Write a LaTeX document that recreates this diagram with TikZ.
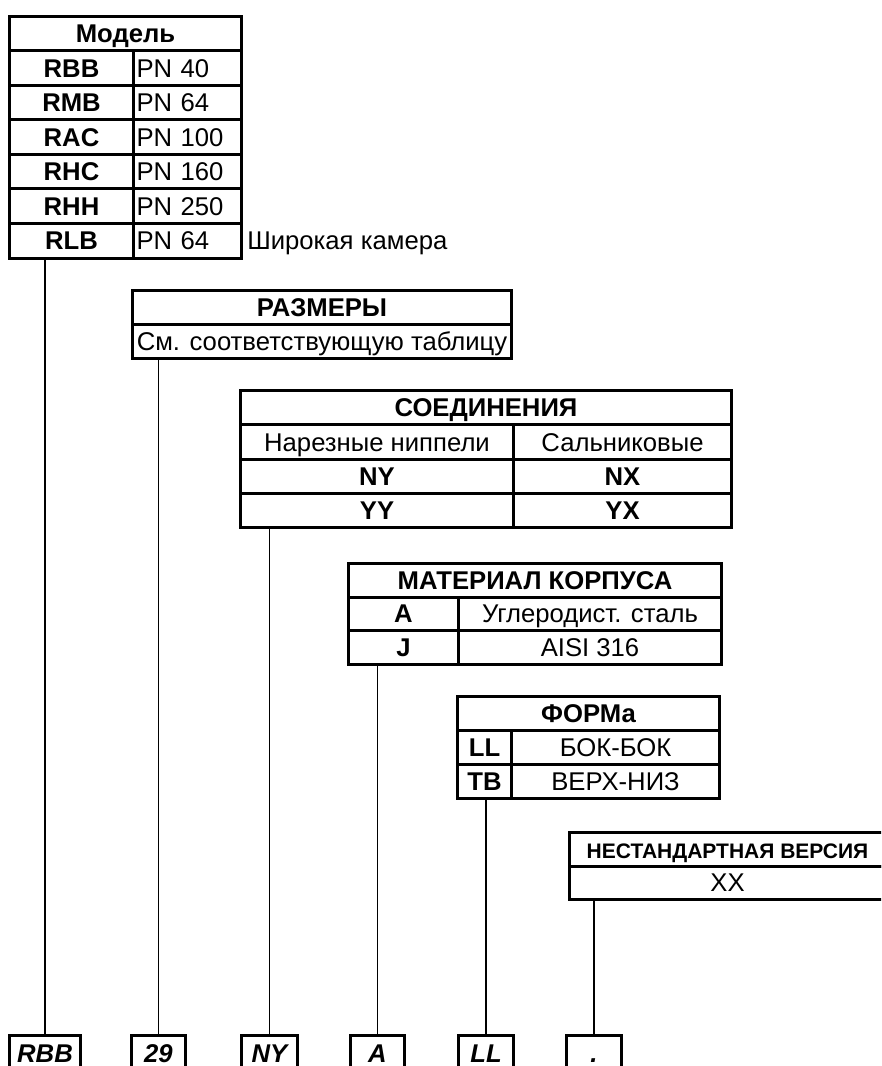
\documentclass[tikz,border=0pt]{standalone}
\usepackage{fontspec}
\setmainfont{Liberation Sans}
\newcommand\tabfont{\fontsize{19.25pt}{21pt}\selectfont}
\newcommand\smallhd{\fontsize{15.75pt}{17pt}\selectfont}
\tikzset{
  cw/.style={minimum width=#1*0.75pt},
  ch/.style={minimum height=#1*0.75pt},
  cell/.style={draw, line width=2.25pt, inner sep=0pt, anchor=north west,
    text height=13.8pt, text depth=0pt, font=\tabfont},
  hd/.style={cell, font=\tabfont\bfseries},
  pcell/.style={cell, text width=76.5pt, inner xsep=2.25pt, align=left},
  outbox/.style={cell, ch=36, font=\tabfont\bfseries\itshape},
  link/.style={line width=0.9pt}
}
\begin{document}
\begin{tikzpicture}[x=0.75pt, y=-0.75pt]
        \useasboundingbox (0,0) rectangle (881,1066);
        \clip (0,0) rectangle (881,1066);
        % model
        \node[hd, cw=232, ch=34.5] (model) at (8,15) {Модель};
        \foreach \code/\pn [count=\i] in {RBB/PN 40, RMB/PN 64, RAC/PN 100, RHC/PN 160, RHH/PN 250, RLB/PN 64}{
            \node[hd, cw=124, ch=34.5] (m\i) at (8, 15+34.5*\i) {\code};
            \node[pcell, ch=34.5] (p\i) at (132, 15+34.5*\i) {\pn};
        }
        \node[anchor=west, inner sep=0pt, text height=13.8pt, text depth=0pt, font=\tabfont] (wide) at ([xshift=3pt]p6.east) {Широкая камера};
        % sizes
        \node[hd, cw=379, ch=34] (sz1) at (131,289) {РАЗМЕРЫ};
        \node[cell, cw=379, ch=34] (sz2) at (131,323) {См. соответствующую таблицу};
        % connections
        \node[hd, cw=491, ch=34.25] (con) at (239,389) {СОЕДИНЕНИЯ};
        \node[cell, cw=273, ch=34.25] (ca1) at (239,423.25) {Нарезные ниппели};
        \node[cell, cw=218, ch=34.25] (cb1) at (512,423.25) {Сальниковые};
        \foreach \a/\b [count=\i from 2] in {NY/NX, YY/YX}{
            \node[hd, cw=273, ch=34.25] (ca\i) at (239, {423.25+34.25*(\i-1)}) {\a};
            \node[hd, cw=218, ch=34.25] (cb\i) at (512, {423.25+34.25*(\i-1)}) {\b};
        }
        % body material
        \node[hd, cw=373, ch=33.5] (mat) at (347,562) {МАТЕРИАЛ КОРПУСА};
        \foreach \a/\b [count=\i] in {A/Углеродист. сталь, J/AISI 316}{
            \node[hd, cw=110, ch=33.5] (ma\i) at (347, 562+33.5*\i) {\a};
            \node[cell, cw=263, ch=33.5] (mb\i) at (457, 562+33.5*\i) {\b};
        }
        % shape
        \node[hd, cw=262, ch=34] (frm) at (456,695) {ФОРМа};
        \foreach \a/\b [count=\i] in {LL/БОК-БОК, TB/ВЕРХ-НИЗ}{
            \node[hd, cw=54, ch=34] (fa\i) at (456, 695+34*\i) {\a};
            \node[cell, cw=208, ch=34] (fb\i) at (510, 695+34*\i) {\b};
        }
        % special version
        \node[hd, cw=316, ch=33.5, font=\smallhd\bfseries] (spc) at (568,831) {НЕСТАНДАРТНАЯ ВЕРСИЯ};
        \node[cell, cw=316, ch=33.5] (xx) at (568,864.5) {XX};
        % code boxes and links
        \foreach \x/\w/\lab/\top [count=\i] in {8/71/RBB/m6, 130/54/29/sz2, 240/56/NY/ca3, 349/54/A/ma2, 457/55/LL/fa2, 565/55/./xx}{
            \node[outbox, cw=\w] (b\i) at (\x,1034) {\lab};
            \draw[link] (b\i.north) -- (b\i.north |- \top.south);
        }
\end{tikzpicture}
\end{document}
